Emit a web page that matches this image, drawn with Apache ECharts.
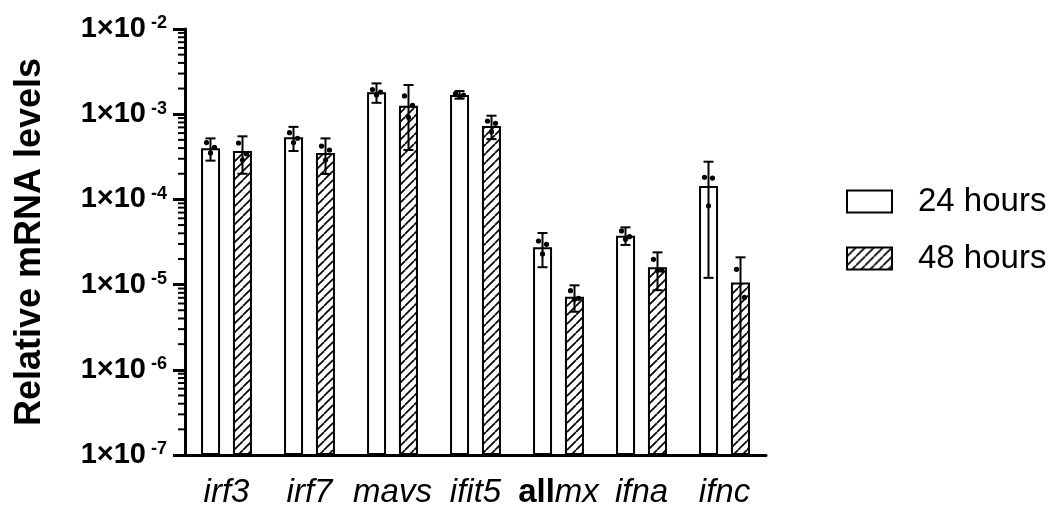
<!DOCTYPE html>
<html>
<head>
<meta charset="utf-8">
<script src="https://cdn.jsdelivr.net/npm/echarts@6/dist/echarts.min.js"></script>
<style>
  html, body { margin: 0; padding: 0; background: #fff; }
  #chart { width: 1059px; height: 508px; }
</style>
</head>
<body>
<div id="chart"></div>
<script>
// genes on the x axis
var categories = ['irf3', 'irf7', 'mavs', 'ifit5', 'allmx', 'ifna', 'ifnc'];
var seriesNames = ['24 hours', '48 hours'];

// bar heights (mean)
var mean24 = [3.98e-4, 5.36e-4, 1.81e-3, 1.68e-3, 2.74e-5, 3.75e-5, 1.44e-4];
var mean48 = [3.70e-4, 3.50e-4, 1.26e-3, 7.27e-4, 7.2e-6, 1.60e-5, 1.06e-5];

// error bars
var low24 = [2.85e-4, 3.70e-4, 1.36e-3, 1.52e-3, 1.60e-5, 2.92e-5, 1.20e-5];
var high24 = [5.20e-4, 7.10e-4, 2.30e-3, 1.87e-3, 4.03e-5, 4.70e-5, 2.77e-4];
var low48 = [2.00e-4, 1.99e-4, 3.80e-4, 5.10e-4, 4.8e-6, 8.6e-6, 7.7e-7];
var high48 = [5.50e-4, 5.20e-4, 2.20e-3, 9.60e-4, 9.8e-6, 2.39e-5, 2.09e-5];

// single replicates
var points24 = [
  [4.64e-4, 4.09e-4, 3.51e-4],
  [6.07e-4, 5.21e-4, 4.64e-4],
  [1.95e-3, 1.82e-3, 1.68e-3],
  [1.75e-3, 1.68e-3, 1.62e-3],
  [3.25e-5, 2.97e-5, 2.29e-5],
  [4.26e-5, 3.65e-5, 3.40e-5],
  [1.82e-4, 1.78e-4, 8.4e-5]
];
var points48 = [
  [4.59e-4, 3.41e-4, 2.90e-4],
  [4.23e-4, 3.80e-4, 2.90e-4],
  [1.64e-3, 1.27e-3, 9.2e-4],
  [8.32e-4, 7.82e-4, 6.23e-4],
  [8.48e-6, 6.90e-6, 6.72e-6],
  [1.98e-5, 1.48e-5, 1.46e-5],
  [1.51e-5, 7.1e-6]
];

// decade ticks on the y axis
var yMin = 1e-7;
var yMax = 1e-2;
var minorSteps = [2, 3, 4, 5, 6, 7, 8, 9];

var FONT = '"Liberation Sans", Arial, sans-serif';
var barOffset = 16;
var jitter = [-4, 4, 0];

// hatch pattern for 48 hours
var hatch = document.createElement('canvas');
hatch.width = 9;
hatch.height = 9;
var hctx = hatch.getContext('2d');
hctx.fillStyle = '#fff';
hctx.fillRect(0, 0, 9, 9);
hctx.strokeStyle = '#000';
hctx.lineWidth = 1.7;
[0, 9, 18].forEach(function (k) {
  hctx.beginPath();
  hctx.moveTo(k - 9, 9);
  hctx.lineTo(k, 0);
  hctx.stroke();
});
var hatchFill = { image: hatch, repeat: 'repeat' };

function errData(low, high) {
  return categories.map(function (c, i) { return [i, low[i], high[i]]; });
}
function dotData(points) {
  var out = [];
  points.forEach(function (arr, i) {
    arr.forEach(function (v, j) { out.push([i, v, j]); });
  });
  return out;
}
var minorTicks = [];
for (var e = Math.log10(yMin); e < Math.log10(yMax); e++) {
  minorSteps.forEach(function (m) { minorTicks.push([0, m * Math.pow(10, e)]); });
}

function errorItem(offset) {
  return function (params, api) {
    var cat = api.value(0);
    var lo = api.coord([cat, api.value(1)]);
    var hi = api.coord([cat, api.value(2)]);
    var x = lo[0] + offset;
    var cap = 5;
    var st = { stroke: '#000', lineWidth: 2 };
    return {
      type: 'group',
      children: [
        { type: 'line', shape: { x1: x, y1: lo[1], x2: x, y2: hi[1] }, style: st },
        { type: 'line', shape: { x1: x - cap, y1: hi[1], x2: x + cap, y2: hi[1] }, style: st },
        { type: 'line', shape: { x1: x - cap, y1: lo[1], x2: x + cap, y2: lo[1] }, style: st }
      ]
    };
  };
}
function dotItem(offset) {
  return function (params, api) {
    var p = api.coord([api.value(0), api.value(1)]);
    return {
      type: 'circle',
      shape: { cx: p[0] + offset + jitter[api.value(2)], cy: p[1], r: 2.6 },
      style: { fill: '#000' }
    };
  };
}

var chart = echarts.init(document.getElementById('chart'));

var option = {
  animation: false,
  backgroundColor: '#fff',
  grid: {
    left: 185, right: 293, top: 29, bottom: 53,
    containLabel: false, outerBoundsMode: 'none'
  },
  legend: {
    orient: 'vertical',
    left: 841,
    top: 180,
    itemWidth: 45,
    itemHeight: 22,
    itemGap: 24,
    icon: 'rect',
    textStyle: { fontFamily: FONT, fontSize: 33, color: '#000', padding: [0, 0, 0, 21] },
    data: [
      { name: seriesNames[0], itemStyle: { color: '#fff', borderColor: '#000', borderWidth: 2 } },
      { name: seriesNames[1], itemStyle: { color: hatchFill, borderColor: '#000', borderWidth: 2 } }
    ]
  },
  xAxis: {
    type: 'category',
    data: categories,
    boundaryGap: true,
    axisLine: { lineStyle: { color: '#000', width: 3 } },
    axisTick: { alignWithLabel: true, length: 14, lineStyle: { color: '#000', width: 3 } },
    axisLabel: {
      margin: 21,
      formatter: function (v) {
        if (v === 'allmx') return '{b|all}{i|mx}';
        return '{i|' + v + '}';
      },
      rich: {
        i: { fontFamily: FONT, fontSize: 33, fontStyle: 'italic', color: '#000' },
        b: { fontFamily: FONT, fontSize: 33, fontWeight: 'bold', color: '#000' }
      }
    }
  },
  yAxis: {
    type: 'log',
    logBase: 10,
    min: yMin,
    max: yMax,
    startValue: yMin,
    splitLine: { show: false },
    name: 'Relative mRNA levels',
    nameLocation: 'middle',
    nameGap: 137,
    nameTextStyle: { fontFamily: FONT, fontSize: 36, fontWeight: 'bold', color: '#000' },
    axisLine: { show: true, lineStyle: { color: '#000', width: 3 } },
    axisTick: { show: true, length: 12, lineStyle: { color: '#000', width: 3 } },
    axisLabel: {
      margin: 18,
      formatter: function (v) {
        return '{a|1×10}{s|' + Math.round(Math.log10(v)) + '}';
      },
      rich: {
        a: { fontFamily: FONT, fontSize: 29, fontWeight: 'bold', color: '#000' },
        s: { fontFamily: FONT, fontSize: 18, fontWeight: 'bold', color: '#000',
             verticalAlign: 'top', padding: [0, 0, 0, 5] }
      }
    }
  },
  series: [
    {
      name: seriesNames[0],
      type: 'bar',
      data: mean24,
      barWidth: 19,
      barGap: '68%',
      itemStyle: { color: '#fff', borderColor: '#000', borderWidth: 2 }
    },
    {
      name: seriesNames[1],
      type: 'bar',
      data: mean48,
      barWidth: 19,
      barGap: '68%',
      itemStyle: { color: hatchFill, borderColor: '#000', borderWidth: 2 }
    },
    {
      type: 'custom', name: 'err24', silent: true, z: 5,
      renderItem: errorItem(-barOffset),
      encode: { x: 0, y: [1, 2] },
      data: errData(low24, high24)
    },
    {
      type: 'custom', name: 'err48', silent: true, z: 5,
      renderItem: errorItem(barOffset),
      encode: { x: 0, y: [1, 2] },
      data: errData(low48, high48)
    },
    {
      type: 'custom', name: 'dots24', silent: true, z: 6,
      renderItem: dotItem(-barOffset),
      encode: { x: 0, y: 1 },
      data: dotData(points24)
    },
    {
      type: 'custom', name: 'dots48', silent: true, z: 6,
      renderItem: dotItem(barOffset),
      encode: { x: 0, y: 1 },
      data: dotData(points48)
    },
    {
      // minor ticks between decades
      type: 'custom', name: 'minor', silent: true, z: 4, clip: false,
      renderItem: function (params, api) {
        var y = api.coord([0, api.value(1)])[1];
        var x0 = params.coordSys.x;
        return {
          type: 'line',
          shape: { x1: x0 - 7, y1: y, x2: x0, y2: y },
          style: { stroke: '#000', lineWidth: 2 }
        };
      },
      encode: { x: 0, y: 1 },
      data: minorTicks
    }
  ]
};

chart.setOption(option);
</script>
</body>
</html>
